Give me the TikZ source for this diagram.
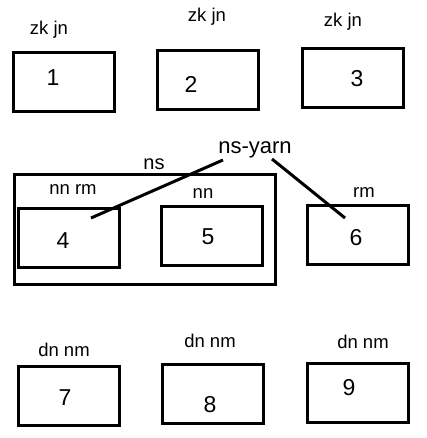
\documentclass[tikz,border=0pt]{standalone}
\usepackage{fontspec}
\setmainfont{Liberation Sans}
\begin{document}
\begin{tikzpicture}[x=1pt,y=-1pt,
  boxnode/.style={draw,line width=3pt,inner sep=0pt,minimum width=101pt,minimum height=59pt},
  lbl/.style={anchor=base,inner sep=0pt,font=\fontsize{18.5}{20}\selectfont},
  num/.style={anchor=base,inner sep=0pt,font=\fontsize{23}{26}\selectfont},
  big/.style={anchor=base,inner sep=0pt,font=\fontsize{22}{24}\selectfont},
  conn/.style={line width=3pt}]
\useasboundingbox (0,0) rectangle (426,438);
% row 1
\node[boxnode] (b1) at (64,82) {};
\node[boxnode] (b2) at (208,80) {};
\node[boxnode] (b3) at (353,78.5) {};
\node[lbl] (l1) at (49,35) {zk jn};
\node[lbl] (l2) at (207,22) {zk jn};
\node[lbl] (l3) at (343,27) {zk jn};
\node[num] (n1) at (53,86) {1};
\node[num] (n2) at (191,93) {2};
\node[num] (n3) at (357,87) {3};
% row 2
\node[draw,line width=3pt,inner sep=0pt,minimum width=261pt,minimum height=110pt] (ns) at (145,229.5) {};
\node[boxnode] (b4) at (68.5,237.5) {};
\node[boxnode] (b5) at (212,235.5) {};
\node[boxnode] (b6) at (357.5,234.5) {};
\node[big] (nsy) at (255,154) {ns-yarn};
\node[lbl,font=\fontsize{20}{22}\selectfont] (nsl) at (154,170) {ns};
\node[lbl] (l4) at (73,194) {nn rm};
\node[lbl] (l5) at (203,198) {nn};
\node[lbl] (l6) at (364,197) {rm};
\node[num] (n4) at (63,248) {4};
\node[num] (n5) at (208,244) {5};
\node[num] (n6) at (356,245) {6};
\coordinate (c1s) at (223,160);
\coordinate (c1e) at (91,218);
\coordinate (c2s) at (272,159);
\coordinate (c2e) at (345,218);
\draw[conn] (c1s) -- (c1e);
\draw[conn] (c2s) -- (c2e);
% row 3
\node[boxnode] (b7) at (69,396) {};
\node[boxnode] (b8) at (213,394) {};
\node[boxnode] (b9) at (357.5,393) {};
\node[lbl] (l7) at (64,356) {dn nm};
\node[lbl] (l8) at (210,347) {dn nm};
\node[lbl] (l9) at (363,348) {dn nm};
\node[num] (n7) at (65,405) {7};
\node[num] (n8) at (210,412) {8};
\node[num] (n9) at (349,395) {9};
\end{tikzpicture}
\end{document}
